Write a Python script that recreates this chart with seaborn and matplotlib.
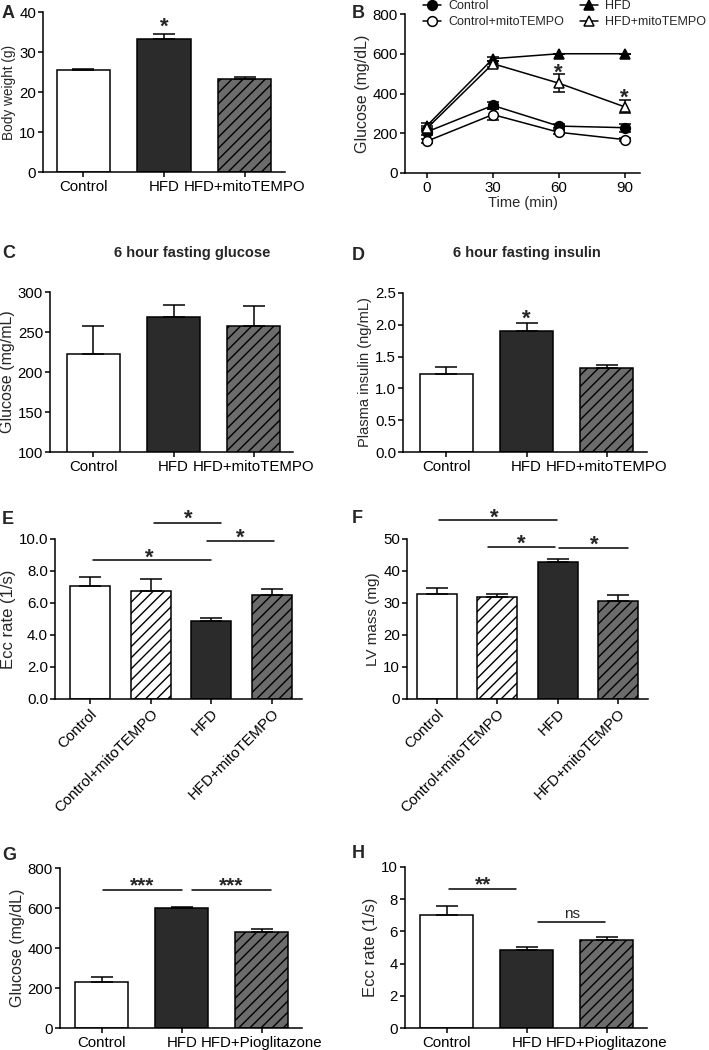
import numpy as np
import matplotlib
matplotlib.use("Agg")
import matplotlib.pyplot as plt
import seaborn as sns
from matplotlib.ticker import FormatStrFormatter, MultipleLocator

# ---------------- data ----------------
a_groups = ["Control", "HFD", "HFD+mitoTEMPO"]
a_weight = [25.4, 33.3, 23.3]
a_err = [0.4, 1.3, 0.5]

b_time = [0, 30, 60, 90]
b_control = [207, 340, 236, 228]
b_control_err = [15, 18, 10, 20]
b_control_mito = [160, 294, 205, 168]
b_control_mito_err = [10, 28, 10, 8]
b_hfd = [238, 575, 600, 600]
b_hfd_err = [12, 10, 0, 0]
b_hfd_mito = [225, 550, 452, 333]
b_hfd_mito_err = [12, 15, 45, 33]

c_glucose = [223, 269, 258]
c_err = [35, 15, 25]

d_insulin = [1.23, 1.905, 1.325]
d_err = [0.11, 0.12, 0.05]

e_groups = ["Control", "Control+mitoTEMPO", "HFD", "HFD+mitoTEMPO"]
e_ecc = [7.04, 6.75, 4.9, 6.5]
e_err = [0.59, 0.77, 0.14, 0.37]

f_lv = [32.8, 31.9, 42.8, 30.7]
f_err = [1.9, 1.05, 1.1, 1.9]

g_groups = ["Control", "HFD", "HFD+Pioglitazone"]
g_glucose = [231, 601, 480]
g_err = [23, 3, 13]

h_ecc = [7.02, 4.87, 5.45]
h_err = [0.58, 0.16, 0.2]

# significance annotations: (x1, x2, y_line, text, x_text, y_text)
e_sig = [(0.04, 1.99, 8.71, "*", 0.98, 9.23),
         (1.05, 2.17, 11.02, "*", 1.62, 11.63),
         (1.93, 3.03, 9.85, "*", 2.48, 10.44)]
f_sig = [(0.03, 1.99, 55.9, "*", 0.95, 58.7),
         (0.85, 1.96, 47.6, "*", 1.39, 50.4),
         (2.03, 3.16, 47.3, "*", 2.61, 50.2)]
g_sig = [(0.02, 1.0, 688.8, "***", 0.5, 738.6),
         (1.125, 2.11, 688.8, "***", 1.61, 738.6)]
h_sig = [(0.03, 0.86, 8.63, "**", 0.45, 9.25),
         (1.14, 1.97, 6.58, "ns", 1.56, 7.2)]

# ---------------- style ----------------
sns.set_style("ticks")
plt.rcParams["font.family"] = ["Liberation Sans", "DejaVu Sans"]
plt.rcParams["hatch.color"] = "black"
plt.rcParams["hatch.linewidth"] = 1.0
plt.rcParams["axes.linewidth"] = 1.1
plt.rcParams["xtick.major.width"] = 1.1
plt.rcParams["ytick.major.width"] = 1.1
plt.rcParams["xtick.major.size"] = 3.5
plt.rcParams["ytick.major.size"] = 3.5
plt.rcParams["xtick.major.pad"] = 2
plt.rcParams["ytick.major.pad"] = 1.5
plt.rcParams["axes.edgecolor"] = "black"
plt.rcParams["xtick.color"] = "black"
plt.rcParams["ytick.color"] = "black"

W, H = 709, 1050
fig = plt.figure(figsize=(W / 100, H / 100), dpi=100)
TICK_FS = 10.8
STAR_FS = 16

WHITE, DARK, GREY = "#ffffff", "#2b2b2b", "#6c6c6c"


def add_ax(left, top, right, bottom):
    return fig.add_axes([left / W, 1 - bottom / H, (right - left) / W, (bottom - top) / H])


def star(ax, x, y, text, fs):
    ax.annotate(text, (x, y), xytext=(0, -0.55 * fs), textcoords="offset points",
                ha="center", va="baseline", fontsize=fs, fontweight="bold",
                annotation_clip=False)


def bar_panel(ax, groups, vals, errs, colors, hatches, xlim, ylim, step, fmt,
              ylabel, ylabel_fs, rot=False):
    sns.barplot(x=groups, y=vals, hue=groups, palette=colors, legend=False, ax=ax,
                width=0.66, edgecolor="black", linewidth=1.1, errorbar=None,
                saturation=1)
    for p, h in zip(ax.patches, hatches):
        p.set_hatch(h)
    n = len(vals)
    ax.errorbar(range(n), vals, yerr=[np.zeros(n), errs], fmt="none", ecolor="black",
                elinewidth=1.1, capsize=8, capthick=1.1, zorder=3)
    ax.set_xlim(*xlim)
    ax.set_ylim(*ylim)
    ax.yaxis.set_major_locator(MultipleLocator(step))
    if fmt:
        ax.yaxis.set_major_formatter(FormatStrFormatter(fmt))
    ax.set_ylabel(ylabel, fontsize=ylabel_fs, labelpad=2)
    ax.set_xlabel("")
    ax.set_xticks(range(n))
    if rot:
        ax.set_xticklabels(groups, rotation=45, ha="right", rotation_mode="anchor",
                           fontsize=TICK_FS)
    else:
        ax.set_xticklabels(groups, fontsize=TICK_FS)
    ax.tick_params(axis="y", labelsize=TICK_FS)
    sns.despine(ax=ax)


def sig_lines(ax, sigs, fs):
    for x1, x2, yl, txt, xt, yt in sigs:
        ax.plot([x1, x2], [yl, yl], color="black", lw=1.1, clip_on=False)
        if txt == "ns":
            ax.annotate(txt, (xt, yl), xytext=(0, 3), textcoords="offset points",
                        ha="center", va="baseline", fontsize=11, annotation_clip=False)
        else:
            star(ax, xt, yt, txt, fs)


# ---------------- A ----------------
axA = add_ax(43, 12, 285, 172)
bar_panel(axA, a_groups, a_weight, a_err, [WHITE, DARK, GREY], ["", "", "///"],
          (-0.5, 2.5), (0, 40), 10, None, "Body weight (g)", 9.8)
star(axA, 1, 38, "*", STAR_FS)

# ---------------- B ----------------
axB = add_ax(405, 14, 640, 173)
series = [("Control", b_control, b_control_err, "o", "black"),
          ("Control+mitoTEMPO", b_control_mito, b_control_mito_err, "o", "white"),
          ("HFD", b_hfd, b_hfd_err, "^", "black"),
          ("HFD+mitoTEMPO", b_hfd_mito, b_hfd_mito_err, "^", "white")]
for name, vals, errs, mk, fc in series:
    axB.errorbar(b_time, vals, yerr=errs, fmt="none", ecolor="black", elinewidth=1.1,
                 capsize=4, capthick=1.1, zorder=2)
    sns.lineplot(x=b_time, y=vals, ax=axB, color="black", linewidth=1.1, marker=mk,
                 markersize=7, markerfacecolor=fc, markeredgecolor="black",
                 markeredgewidth=1.1, label=name, zorder=3)
handles, labels = axB.get_legend_handles_labels()
axB.get_legend().remove()
fig.legend(handles, labels, loc="upper left", bbox_to_anchor=(423 / W, 1.0), ncol=2,
           frameon=False, fontsize=9, handlelength=1.4, handletextpad=0.6,
           columnspacing=1.3, labelspacing=0.35, borderpad=0, borderaxespad=0)
axB.set_xlim(-10, 97)
axB.set_ylim(0, 800)
axB.set_xticks(b_time)
axB.yaxis.set_major_locator(MultipleLocator(200))
axB.tick_params(labelsize=TICK_FS)
axB.set_xlabel("Time (min)", fontsize=10.5, labelpad=1)
axB.set_ylabel("Glucose (mg/dL)", fontsize=11.5, labelpad=2)
sns.despine(ax=axB)
star(axB, 60, 535, "*", STAR_FS)
star(axB, 90, 410, "*", STAR_FS)

# ---------------- C ----------------
axC = add_ax(50, 292, 293, 452)
bar_panel(axC, a_groups, c_glucose, c_err, [WHITE, DARK, GREY], ["", "", "///"],
          (-0.54, 2.49), (100, 300), 50, None, "Glucose (mg/mL)", 11.5)

# ---------------- D ----------------
axD = add_ax(403, 293, 647, 452)
bar_panel(axD, a_groups, d_insulin, d_err, [WHITE, DARK, GREY], ["", "", "///"],
          (-0.54, 2.5), (0, 2.5), 0.5, "%.1f", "Plasma insulin (ng/mL)", 10.5)
star(axD, 1, 2.19, "*", STAR_FS)

# ---------------- E ----------------
axE = add_ax(55, 539, 302, 699)
bar_panel(axE, e_groups, e_ecc, e_err, [WHITE, WHITE, DARK, GREY], ["", "///", "", "///"],
          (-0.58, 3.5), (0, 10), 2, "%.1f", "Ecc rate (1/s)", 12, rot=True)
sig_lines(axE, e_sig, STAR_FS)

# ---------------- F ----------------
axF = add_ax(407, 539, 648, 699)
bar_panel(axF, e_groups, f_lv, f_err, [WHITE, WHITE, DARK, GREY], ["", "///", "", "///"],
          (-0.5, 3.5), (0, 50), 10, None, "LV mass (mg)", 11, rot=True)
sig_lines(axF, f_sig, STAR_FS)

# ---------------- G ----------------
axG = add_ax(60, 868, 302, 1028)
bar_panel(axG, g_groups, g_glucose, g_err, [WHITE, DARK, GREY], ["", "", "///"],
          (-0.52, 2.5), (0, 800), 200, None, "Glucose (mg/dL)", 11.5)
sig_lines(axG, g_sig, 15)

# ---------------- H ----------------
axH = add_ax(405, 867, 647, 1028)
bar_panel(axH, g_groups, h_ecc, h_err, [WHITE, DARK, GREY], ["", "", "///"],
          (-0.52, 2.5), (0, 10), 2, None, "Ecc rate (1/s)", 12)
sig_lines(axH, h_sig, 15)

# ---------------- titles & panel letters ----------------
fig.text(192 / W, 1 - 253 / H, "6 hour fasting glucose", ha="center", va="center",
         fontsize=10.5, fontweight="bold")
fig.text(527 / W, 1 - 253 / H, "6 hour fasting insulin", ha="center", va="center",
         fontsize=10.5, fontweight="bold")
for letter, x, y in [("A", 2, 13), ("B", 352, 13), ("C", 2, 253), ("D", 352, 255),
                     ("E", 2, 520), ("F", 352, 518), ("G", 2, 855), ("H", 352, 853)]:
    fig.text(x / W, 1 - y / H, letter, ha="left", va="center", fontsize=13,
             fontweight="bold")

fig.savefig("out.png", dpi=100)
